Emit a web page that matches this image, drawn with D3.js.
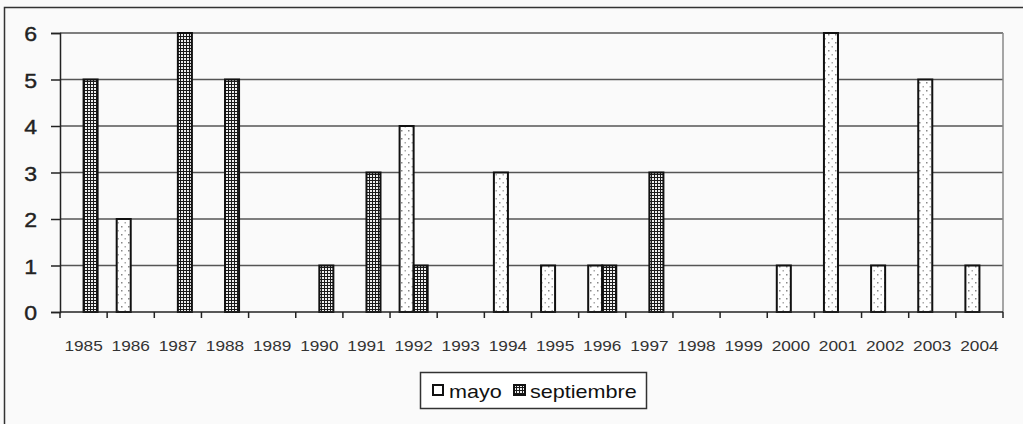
<!DOCTYPE html>
<html>
<head>
<meta charset="utf-8">
<script src="https://cdn.jsdelivr.net/npm/d3@7"></script>
<style>
  body { margin: 0; background: #fafafa; }
  svg { display: block; font-family: "Liberation Sans", Arial, sans-serif; }
</style>
</head>
<body>
<svg id="chart" width="1023" height="424"></svg>
<script>
// years on the x axis
var years = ["1985","1986","1987","1988","1989","1990","1991","1992","1993","1994",
             "1995","1996","1997","1998","1999","2000","2001","2002","2003","2004"];
var series = ["mayo", "septiembre"];
var mayo       = [0,2,0,0,0,0,0,4,0,3,1,1,0,0,0,1,6,1,5,1];
var septiembre = [5,0,6,5,0,1,3,1,0,0,0,1,3,0,0,0,0,0,0,0];
var yTicks = [0,1,2,3,4,5,6];

var svg = d3.select("#chart");
var margin = {left: 60, right: 20, top: 33, bottom: 112};
var W = 1023, H = 424;
var stretch = 1.15; // scan is a bit wider than tall

// patterns for the two series
var defs = svg.append("defs");
var dots = defs.append("pattern").attr("id", "dots")
    .attr("patternUnits", "userSpaceOnUse").attr("width", 7).attr("height", 8);
dots.append("rect").attr("width", 7).attr("height", 8).attr("fill", "#fff");
dots.append("rect").attr("x", 2).attr("y", 2).attr("width", 1.5).attr("height", 1.5).attr("fill", "#888");
dots.append("rect").attr("x", 5.5).attr("y", 6).attr("width", 1.5).attr("height", 1.5).attr("fill", "#aaa");

var grid = defs.append("pattern").attr("id", "grid")
    .attr("patternUnits", "userSpaceOnUse").attr("width", 3).attr("height", 3);
grid.append("rect").attr("width", 3).attr("height", 3).attr("fill", "#eee");
grid.append("rect").attr("width", 3).attr("height", 1).attr("fill", "#1a1a1a");
grid.append("rect").attr("width", 1).attr("height", 3).attr("fill", "#1a1a1a");

var fills = {mayo: "url(#dots)", septiembre: "url(#grid)"};

// outer frame
svg.append("rect").attr("x", 4.5).attr("y", 7.5).attr("width", 1030).attr("height", 430)
    .attr("fill", "none").attr("stroke", "#333").attr("stroke-width", 1.5);

var x = d3.scaleBand().domain(years).range([margin.left, W - margin.right]);
var xs = d3.scaleBand().domain(series).range([0, x.bandwidth()]).paddingInner(0).paddingOuter(0.68);
var y = d3.scaleLinear().domain([0, 6]).range([H - margin.bottom, margin.top]);

// grid lines
svg.append("g").selectAll("line").data(yTicks.slice(1)).enter().append("line")
    .attr("x1", margin.left).attr("x2", W - margin.right)
    .attr("y1", function(d){ return y(d); }).attr("y2", function(d){ return y(d); })
    .attr("stroke", "#555").attr("stroke-width", 1.5);
svg.append("line").attr("x1", W - margin.right).attr("x2", W - margin.right)
    .attr("y1", y(6)).attr("y2", y(0)).attr("stroke", "#888").attr("stroke-width", 1.5);

// bars
var rows = [];
years.forEach(function(yr, i){
  rows.push({year: yr, s: "mayo", v: mayo[i]});
  rows.push({year: yr, s: "septiembre", v: septiembre[i]});
});
svg.append("g").selectAll("rect").data(rows.filter(function(d){ return d.v > 0; })).enter().append("rect")
    .attr("x", function(d){ return x(d.year) + xs(d.s); })
    .attr("width", xs.bandwidth())
    .attr("y", function(d){ return y(d.v); })
    .attr("height", function(d){ return y(0) - y(d.v); })
    .attr("fill", function(d){ return fills[d.s]; })
    .attr("stroke", "#111").attr("stroke-width", 2);

// y axis
var yAxis = svg.append("g").attr("transform", "translate(" + margin.left + ",0)")
    .call(d3.axisLeft(y).tickValues(yTicks).tickSize(9).tickPadding(0).tickFormat(d3.format("d")));
yAxis.select(".domain").attr("stroke", "#222").attr("stroke-width", 1.5);
yAxis.selectAll(".tick line").attr("stroke", "#222").attr("stroke-width", 1.5);
yAxis.selectAll("text")
    .attr("x", null).attr("dy", null)
    .attr("transform", "translate(-23,7.5) scale(1.1,1)")
    .style("font-size", "21px").attr("fill", "#222")
    .attr("stroke", "#222").attr("stroke-width", 0.4)
    .style("font-family", "Liberation Sans, Arial");

// x axis: ticks between categories
var xg = svg.append("g").attr("transform", "translate(0," + y(0) + ")");
xg.append("line").attr("x1", margin.left).attr("x2", W - margin.right)
    .attr("stroke", "#222").attr("stroke-width", 1.5);
var bounds = years.map(function(d){ return x(d); }).concat([W - margin.right]);
xg.selectAll("line.t").data(bounds).enter().append("line").attr("class", "t")
    .attr("x1", function(d){ return d; }).attr("x2", function(d){ return d; })
    .attr("y1", 0).attr("y2", 6).attr("stroke", "#222").attr("stroke-width", 1.5);
xg.selectAll("text").data(years).enter().append("text")
    .attr("transform", function(d){
      return "translate(" + (x(d) + x.bandwidth() / 2) + ",39) scale(" + stretch + ",1)";
    })
    .attr("text-anchor", "middle")
    .style("font-size", "15px").attr("fill", "#333").text(function(d){ return d; });

// legend
var lg = svg.append("g").attr("transform", "translate(420,372)");
lg.append("rect").attr("x", 0.5).attr("y", 0.5).attr("width", 226).attr("height", 36)
    .attr("fill", "#fff").attr("stroke", "#333").attr("stroke-width", 1.5);
lg.append("rect").attr("x", 13).attr("y", 13).attr("width", 10).attr("height", 10)
    .attr("fill", "#fff").attr("stroke", "#111").attr("stroke-width", 2);
lg.append("text").attr("transform", "translate(29,26) scale(1.2,1)")
    .style("font-size", "18px").attr("fill", "#111").text("mayo");
lg.append("rect").attr("x", 94).attr("y", 13).attr("width", 11).attr("height", 10)
    .attr("fill", "url(#grid)").attr("stroke", "#111").attr("stroke-width", 2);
lg.append("text").attr("transform", "translate(110,26) scale(1.2,1)")
    .style("font-size", "18px").attr("fill", "#111").text("septiembre");
</script>
</body>
</html>
